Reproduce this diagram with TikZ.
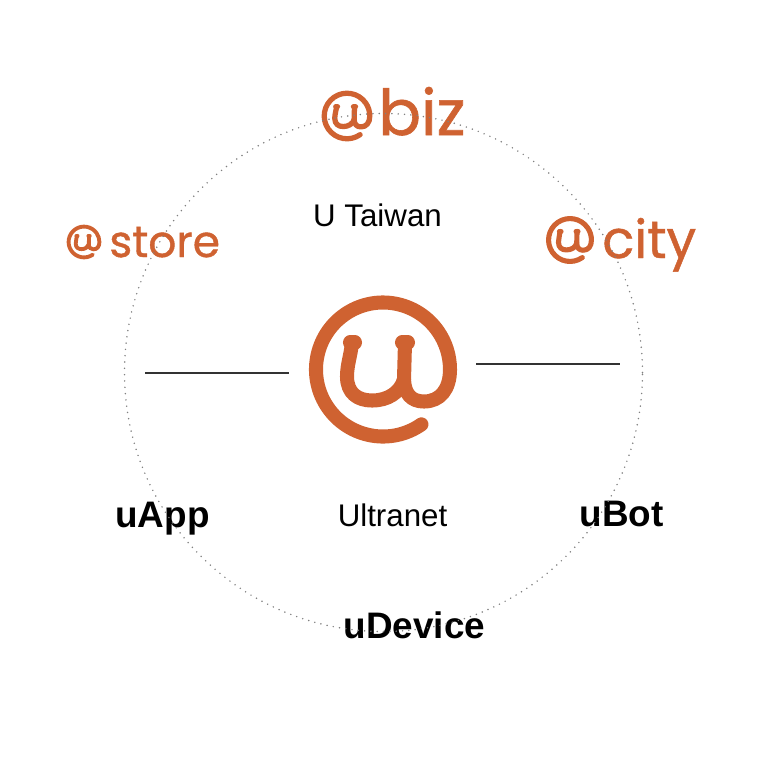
\documentclass[tikz,border=0pt]{standalone}
\usepackage{fontspec}
\setmainfont{Liberation Sans}
\newfontfamily\brandfont[FakeBold=0.9]{Poppins}
\definecolor{brand}{HTML}{CF6231}
\tikzset{
  plain/.style={anchor=base, font=\fontsize{17.8}{20}\selectfont},
  product/.style={anchor=base, font=\fontsize{21}{24}\selectfont\bfseries},
  brandname/.style={anchor=base west, text=brand, inner sep=0pt},
  atmark/.pic={
    \draw[brand, line cap=round, line join=round]
      (55:67) arc[start angle=55, end angle=360, radius=67]
      .. controls (67,20) and (57,32) .. (41,32)
      .. controls (28,32) and (21.5,24) .. (21,10) -- (22,-27);
    \draw[brand, line cap=round, line join=round]
      (-31,-27) .. controls (-32,-15) and (-36,-5) .. (-36,7)
      .. controls (-36,24) and (-25,31) .. (-11,31)
      .. controls (5,31) and (17,23) .. (21,10);
    \draw[brand, line cap=round] (-33,-27) -- (-28,-27);
    \draw[brand, line cap=round] (19,-27) -- (25,-27);
  }
}
\begin{document}
\begin{tikzpicture}[x=0.02cm, y=-0.02cm]
  \useasboundingbox (0,0) rectangle (771,771);
  % logos
  \pic (mainmark) [line width=8pt] at (383,369.5) {atmark};
  \pic (bizmark) [scale=.34, line width=3pt] at (347,116) {atmark};
  \pic (storemark) [scale=.23, line width=2.2pt] at (84,242) {atmark};
  \pic (citymark) [scale=.32, line width=2.9pt] at (570,240) {atmark};
  \node[brandname, font=\brandfont\fontsize{36}{40}\selectfont] (biz) at (378,135) {biz};
  \node[brandname, font=\brandfont\fontsize{25}{28}\selectfont] (store) at (109,257) {store};
  \node[brandname, font=\brandfont\fontsize{30}{32}\selectfont] (city) at (602,258) {city};
  % labels
  \node[plain] (taiwan) at (377.5,226) {U Taiwan};
  \node[plain] (ultranet) at (392.5,526) {Ultranet};
  \node[product] (uapp) at (162.5,527) {uApp};
  \node[product] (ubot) at (621.5,526) {uBot};
  \node[product] (udevice) at (414.5,638) {uDevice};
  % rules
  \coordinate (la) at (145,373);
  \coordinate (lb) at (289,373);
  \coordinate (ra) at (476,364);
  \coordinate (rb) at (620,364);
  \draw[line width=.7pt, black!80] (la) -- (lb);
  \draw[line width=.7pt, black!80] (ra) -- (rb);
  \node[circle, draw=black!50, line width=.95pt, line cap=round,
    dash pattern=on 0pt off 3.6pt, minimum size=518*0.02cm, inner sep=0pt] (ring) at (383.5,372.5) {};
\end{tikzpicture}
\end{document}
